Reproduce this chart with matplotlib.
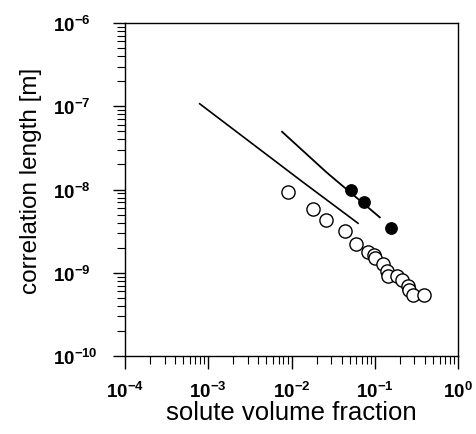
import matplotlib
matplotlib.use("Agg")
import matplotlib.pyplot as plt
from matplotlib.ticker import LogLocator, FixedLocator, NullFormatter

plt.rcParams['font.family'] = ['Liberation Sans', 'DejaVu Sans']
plt.rcParams['mathtext.fontset'] = 'custom'
plt.rcParams['mathtext.rm'] = 'Liberation Sans:bold'
plt.rcParams['mathtext.bf'] = 'Liberation Sans:bold'
plt.rcParams['mathtext.default'] = 'bf'

# Data
open_x = [0.0091, 0.0182, 0.0263, 0.0445, 0.0597, 0.0832, 0.097, 0.102, 0.124, 0.140,
          0.143, 0.187, 0.213, 0.251, 0.260, 0.288, 0.391]
open_y = [9.25e-9, 5.83e-9, 4.3e-9, 3.15e-9, 2.21e-9, 1.79e-9, 1.62e-9, 1.50e-9, 1.27e-9, 1.06e-9,
          9.2e-10, 9.2e-10, 8.2e-10, 7.0e-10, 6.2e-10, 5.4e-10, 5.4e-10]
filled_x = [0.0525, 0.0738, 0.1556]
filled_y = [9.86e-9, 7.14e-9, 3.45e-9]
line1_x = [7.9e-4, 0.0138, 0.063]
line1_y = [1.07e-7, 1.22e-8, 3.93e-9]
line2_x = [0.0077, 0.0263, 0.115]
line2_y = [4.94e-8, 1.61e-8, 4.63e-9]

xticks = [1e-4, 1e-3, 1e-2, 1e-1, 1e0]
xlabels = [r'$10^{-4}$', r'$10^{-3}$', r'$10^{-2}$', r'$10^{-1}$', r'$10^{0}$']
yticks = [1e-10, 1e-9, 1e-8, 1e-7, 1e-6]
ylabels = [r'$10^{-10}$', r'$10^{-9}$', r'$10^{-8}$', r'$10^{-7}$', r'$10^{-6}$']

fig = plt.figure(figsize=(4.76, 4.35), dpi=100)
ax = fig.add_axes([125/476, 1-357/435, (458-125)/476, (357-24)/435])

ax.plot(line1_x, line1_y, color='black', lw=1.2)
ax.plot(line2_x, line2_y, color='black', lw=1.3)
ax.plot(open_x, open_y, 'o', mfc='white', mec='black', mew=1.0, ms=9.5, ls='none')
ax.plot(filled_x, filled_y, 'o', mfc='black', mec='black', ms=8.2, ls='none')

ax.set_xscale('log')
ax.set_yscale('log')
ax.set_xlim(1e-4, 1e0)
ax.set_ylim(1e-10, 1e-6)
ax.xaxis.set_major_locator(FixedLocator(xticks))
ax.yaxis.set_major_locator(FixedLocator(yticks))
ax.set_xticklabels(xlabels)
ax.set_yticklabels(ylabels)
ax.xaxis.set_minor_locator(LogLocator(base=10, subs=range(2, 10), numticks=20))
ax.yaxis.set_minor_locator(LogLocator(base=10, subs=range(2, 10), numticks=20))
ax.xaxis.set_minor_formatter(NullFormatter())
ax.yaxis.set_minor_formatter(NullFormatter())

ax.tick_params(axis='both', which='major', direction='out', length=9, width=1.0, labelsize=13.5)
ax.tick_params(axis='both', which='minor', direction='out', length=5.5, width=0.8)
ax.tick_params(axis='x', which='major', pad=9)
ax.tick_params(axis='y', which='major', pad=42.8)
for lab in ax.get_yticklabels():
    lab.set_horizontalalignment('left')
for s in ax.spines.values():
    s.set_linewidth(1.0)

ax.set_xlabel('solute volume fraction', fontsize=18.5, labelpad=-1)
ax.set_ylabel('correlation length [m]', fontsize=17.5)
ax.yaxis.set_label_coords(-0.249, 0.53)

fig.savefig('out.png', dpi=100)
